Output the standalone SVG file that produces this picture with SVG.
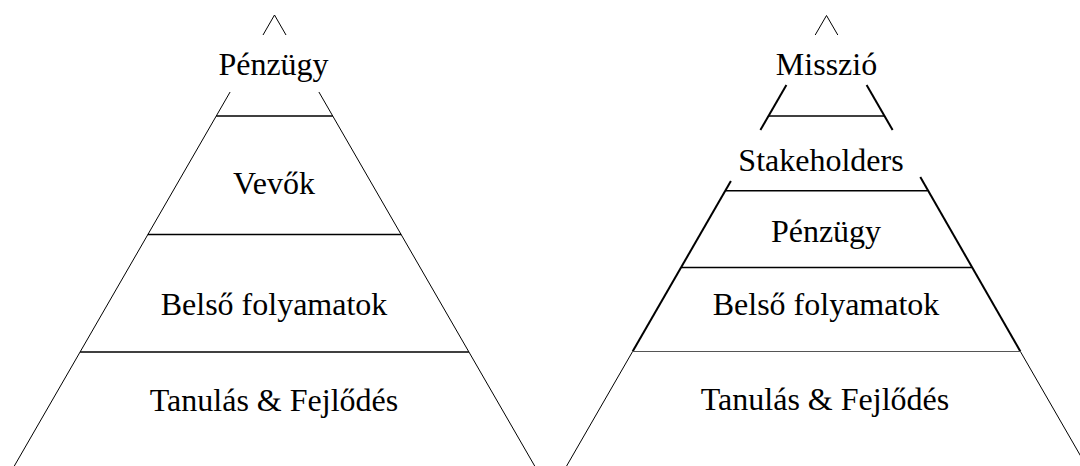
<svg xmlns="http://www.w3.org/2000/svg" width="1080" height="466" viewBox="0 0 1080 466">
  <style>
    .t { font-family: "Liberation Serif", "Times New Roman", serif; font-size: 32px; fill: #000; text-anchor: middle; }
    .s { stroke: #000; stroke-width: 1; fill: none; }
    .b { stroke: #000; stroke-width: 2; fill: none; }
    .h { stroke: #000; stroke-width: 1.6; fill: none; }
    .g { stroke: #555; stroke-width: 1.2; fill: none; }
  </style>
  <rect width="1080" height="466" fill="#fff"/>
  <g id="connectors">
    <polyline class="s" points="263,35 274.5,15 286,35"/>
    <line class="s" x1="230.1" y1="92" x2="14.3" y2="466"/>
    <line class="s" x1="318.9" y1="92" x2="534.7" y2="466"/>
    <line class="h" x1="216.2" y1="116" x2="332.8" y2="116"/>
    <line class="h" x1="147.8" y1="234.5" x2="401.2" y2="234.5"/>
    <line class="h" x1="80.1" y1="352" x2="468.9" y2="352"/>
    <polyline class="s" points="815.2,35 826.5,15.5 837.8,35"/>
    <line class="b" x1="786.4" y1="85" x2="760.4" y2="130"/>
    <line class="b" x1="866.6" y1="85" x2="892.6" y2="130"/>
    <line class="h" x1="768.5" y1="116" x2="884.5" y2="116"/>
    <line class="b" x1="730.9" y1="181" x2="632.6" y2="351.5"/>
    <line class="b" x1="920.3" y1="177" x2="1020.4" y2="351.5"/>
    <line class="s" x1="632.6" y1="351.5" x2="566.6" y2="466"/>
    <line class="s" x1="1020.4" y1="351.5" x2="1086.4" y2="466"/>
    <line class="h" x1="725.4" y1="190.7" x2="927.6" y2="190.7"/>
    <line class="h" x1="681.1" y1="267.5" x2="971.9" y2="267.5"/>
    <line class="g" x1="632.6" y1="351.5" x2="1020.4" y2="351.5"/>
  </g>
  <g id="left-penzugy"><text class="t" x="273.5" y="75">Pénzügy</text></g>
  <g id="left-vevok"><text class="t" x="274" y="194">Vevők</text></g>
  <g id="left-belso"><text class="t" x="274" y="315">Belső folyamatok</text></g>
  <g id="left-tanulas"><text class="t" x="274" y="411">Tanulás &amp; Fejlődés</text></g>
  <g id="right-misszio"><text class="t" x="826.5" y="75">Misszió</text></g>
  <g id="right-stakeholders"><text class="t" x="821" y="171">Stakeholders</text></g>
  <g id="right-penzugy"><text class="t" x="826" y="242">Pénzügy</text></g>
  <g id="right-belso"><text class="t" x="826" y="315">Belső folyamatok</text></g>
  <g id="right-tanulas"><text class="t" x="825" y="410">Tanulás &amp; Fejlődés</text></g>
</svg>
